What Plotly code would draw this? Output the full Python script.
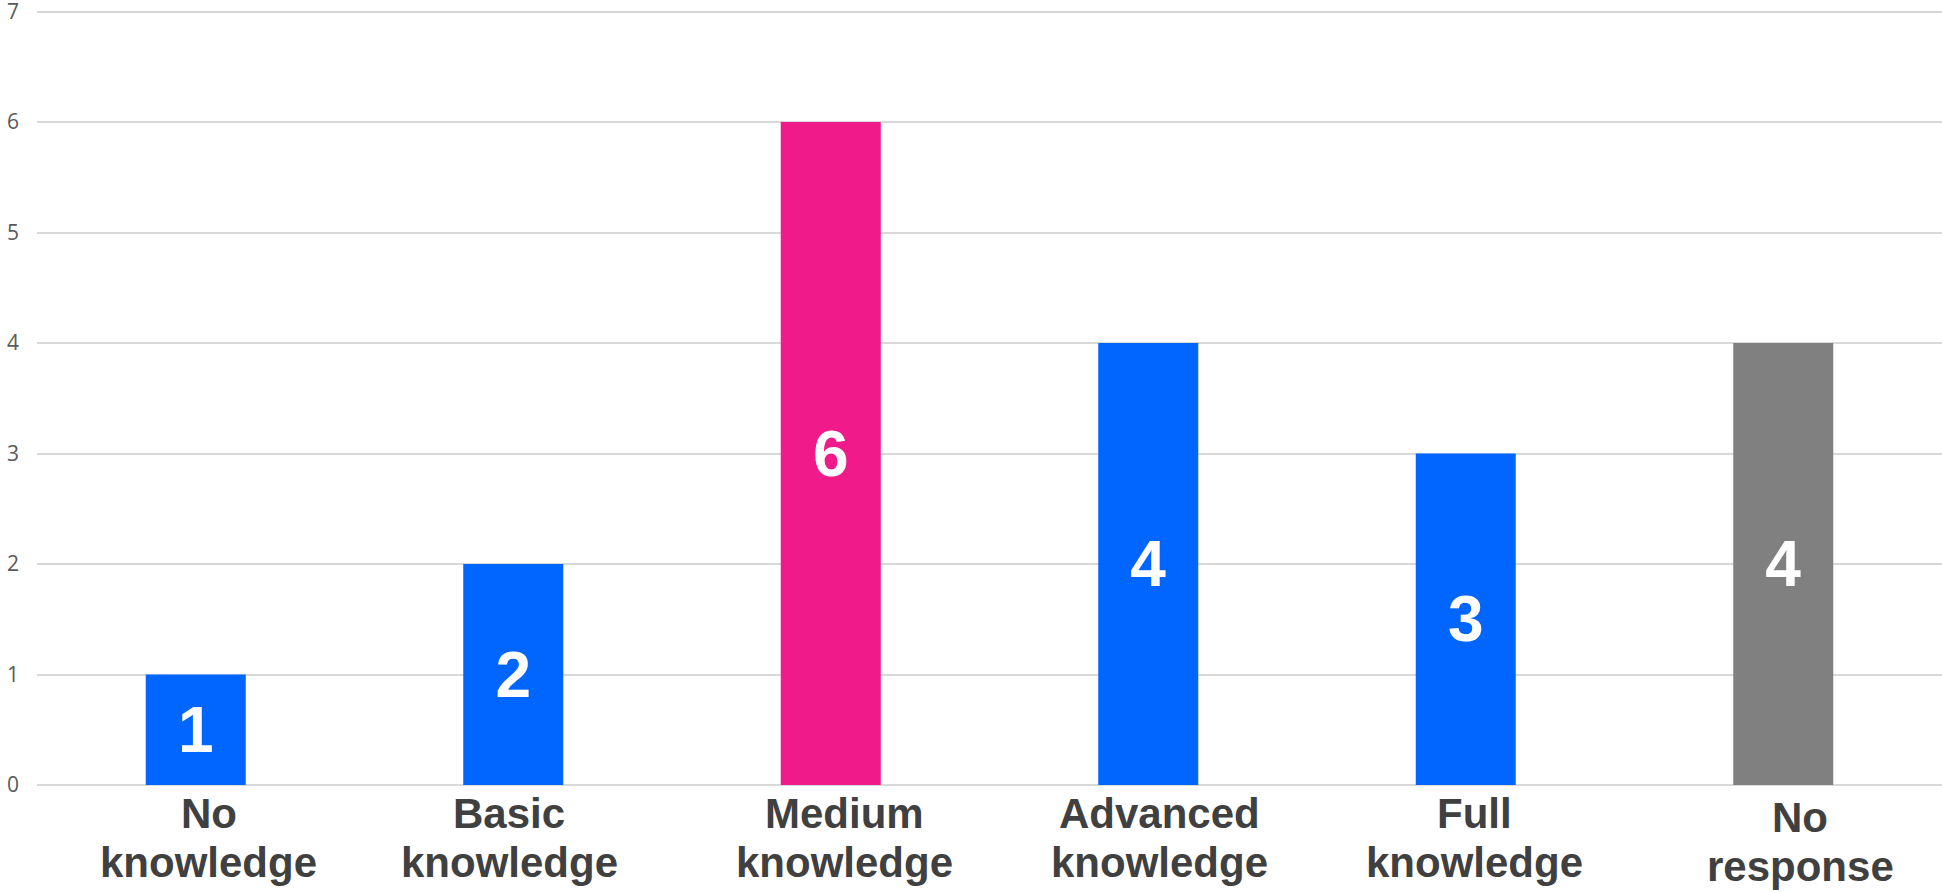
import plotly.graph_objects as go

categories = ["No knowledge", "Basic knowledge", "Medium knowledge",
              "Advanced knowledge", "Full knowledge", "No response"]
label_line1 = ["No", "Basic", "Medium", "Advanced", "Full", "No"]
label_line2 = ["knowledge", "knowledge", "knowledge", "knowledge", "knowledge", "response"]
values = [1, 2, 6, 4, 3, 4]
bar_colors = ["#0066FF", "#0066FF", "#F01A8A", "#0066FF", "#0066FF", "#808080"]
y_ticks = [0, 1, 2, 3, 4, 5, 6, 7]

# small per-label nudges (px) to mimic the source layout
label_dx = [13, -4, 14, 11, 9, 17]
label_dy = [0, 0, 0, 0, 0, -4]

fig = go.Figure(go.Bar(
    x=categories, y=values,
    marker=dict(color=bar_colors, line=dict(width=0)),
    text=[str(v) for v in values],
    textposition="inside", insidetextanchor="middle",
    textangle=0,
    textfont=dict(family="Liberation Sans", size=64, color="white", weight="bold"),
    hoverinfo="skip",
))

label_font = dict(family="Liberation Sans", size=42, color="#404040", weight="bold")
annotations = []
for cat, l1, l2, dx, dy in zip(categories, label_line1, label_line2, label_dx, label_dy):
    annotations.append(dict(x=cat, xref="x", y=0, yref="paper", text=l1,
                            showarrow=False, yanchor="middle", xanchor="center",
                            xshift=dx, yshift=-28 + dy, font=label_font))
    annotations.append(dict(x=cat, xref="x", y=0, yref="paper", text=l2,
                            showarrow=False, yanchor="middle", xanchor="center",
                            xshift=dx, yshift=-77 + dy, font=label_font))

fig.update_layout(
    width=1942, height=892,
    margin=dict(l=37, r=0, t=6, b=107, autoexpand=False),
    paper_bgcolor="white", plot_bgcolor="white",
    bargap=0.685, showlegend=False,
    annotations=annotations,
)
fig.update_xaxes(
    showticklabels=False, automargin=False,
    showline=False, showgrid=False, ticks="",
)
fig.update_yaxes(
    range=[0, 7.05], tickvals=y_ticks, automargin=False,
    tickfont=dict(family="Open Sans", size=21, color="#595959"),
    ticklabeloverflow="allow",
    showgrid=True, gridcolor="#D9D9D9", gridwidth=2,
    zeroline=True, zerolinecolor="#D9D9D9", zerolinewidth=2,
    showline=False, ticks="", ticklabelstandoff=17,
)
fig.write_html("out.html", config={"displayModeBar": False},
               post_script="document.body.style.margin='0';document.body.style.overflow='hidden';")
